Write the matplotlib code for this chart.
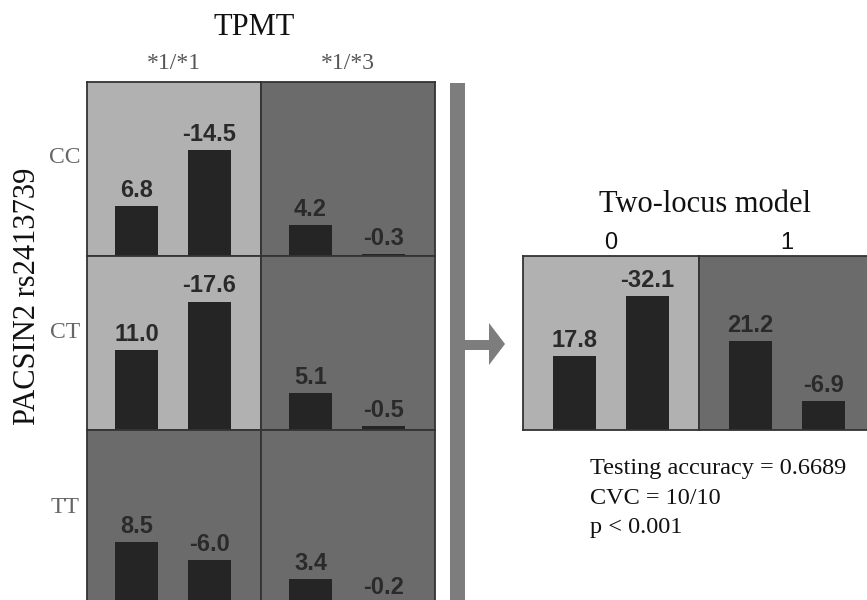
import matplotlib.pyplot as plt
from matplotlib.patches import Polygon

# Datos
row_labels = ["CC", "CT", "TT"]
col_labels = ["*1/*1", "*1/*3"]
first_vals = [[6.8, 4.2], [11.0, 5.1], [8.5, 3.4]]
second_vals = [[-14.5, -0.3], [-17.6, -0.5], [-6.0, -0.2]]
high_risk = [[True, False], [True, False], [False, False]]

model_labels = ["0", "1"]
model_first = [17.8, 21.2]
model_second = [-32.1, -6.9]
model_high = [True, False]

stats_lines = ["Testing accuracy = 0.6689", "CVC = 10/10", "p < 0.001"]

LIGHT = "#b1b1b1"
DARK = "#6b6b6b"
BAR = "#252525"
SERIF = "Liberation Serif"
SANS = "Liberation Sans"

W, H = 867, 600
fig = plt.figure(figsize=(8.67, 6), dpi=100)


def fx(px):
    return px / W


def fy(py):
    return 1 - py / H


def cell_axes(x0, y0, x1, y1):
    return fig.add_axes([fx(x0), fy(y1), fx(x1) - fx(x0), fy(y0) - fy(y1)])


def draw_cell(ax, vals, high, ymax, xlim):
    ax.set_facecolor(LIGHT if high else DARK)
    heights = [abs(v) for v in vals]
    ax.bar([0, 1], heights, width=0.59, color=BAR)
    for x, v, h in zip([0, 1], vals, heights):
        ax.annotate(f"{v:.1f}", (x, h), xytext=(0, 6.5), textcoords="offset points",
                    ha="center", va="baseline", fontsize=17, fontweight="bold",
                    family=SANS, color="#2a2a2a")
    ax.set_xlim(*xlim)
    ax.set_ylim(0, ymax)
    ax.set_xticks([])
    ax.set_yticks([])
    for s in ax.spines.values():
        s.set_color("#333333")
        s.set_linewidth(1.3)


# Rejilla de dos loci
gx0, gy0, cw, ch = 87, 82, 174, 174
for i in range(3):
    for j in range(2):
        ax = cell_axes(gx0 + j * cw, gy0 + i * ch, gx0 + (j + 1) * cw, gy0 + (i + 1) * ch)
        draw_cell(ax, [first_vals[i][j], second_vals[i][j]], high_risk[i][j],
                  ch / 7.3, (-0.678, 1.705))

# Modelo de dos loci
mx0, my0, mw = 523, 256, 176
for j in range(2):
    ax = cell_axes(mx0 + j * mw, my0, mx0 + (j + 1) * mw, my0 + ch)
    draw_cell(ax, [model_first[j], model_second[j]], model_high[j],
              ch / 4.18, (-0.705, 1.705))

# Textos
fig.text(fx(254), fy(35), "TPMT", ha="center", va="baseline", fontsize=22,
         family=SERIF, color="#111111")
for j, lab in enumerate(col_labels):
    fig.text(fx(gx0 + cw * (j + 0.5)), fy(69), lab, ha="center", va="baseline",
             fontsize=17, family=SERIF, color="#555555")
for i, lab in enumerate(row_labels):
    fig.text(fx(80), fy(163 + i * 175), lab, ha="right", va="baseline",
             fontsize=17, family=SERIF, color="#666666")
fig.text(fx(35), fy(296), "PACSIN2 rs2413739", rotation=90, rotation_mode="anchor",
         ha="center", va="baseline", fontsize=22, family=SERIF, color="#111111")

fig.text(fx(705), fy(212), "Two-locus model", ha="center", va="baseline",
         fontsize=22, family=SERIF, color="#111111")
for j, lab in enumerate(model_labels):
    fig.text(fx(mx0 + mw * (j + 0.5)), fy(249), lab, ha="center", va="baseline",
             fontsize=17, family=SANS, color="#111111")
for k, line in enumerate(stats_lines):
    fig.text(fx(590), fy(474 + k * 29.5), line, ha="left", va="baseline",
             fontsize=17.5, family=SERIF, color="#111111")

# Barra vertical y flecha
pts = [(450, 83), (465, 83), (465, 340), (489, 340), (489, 323), (505, 344),
       (489, 365), (489, 350), (465, 350), (465, 610), (450, 610)]
fig.patches.append(Polygon([(fx(x), fy(y)) for x, y in pts], closed=True,
                           transform=fig.transFigure, color="#7d7d7d", lw=0))

plt.savefig("out.png", dpi=100)
